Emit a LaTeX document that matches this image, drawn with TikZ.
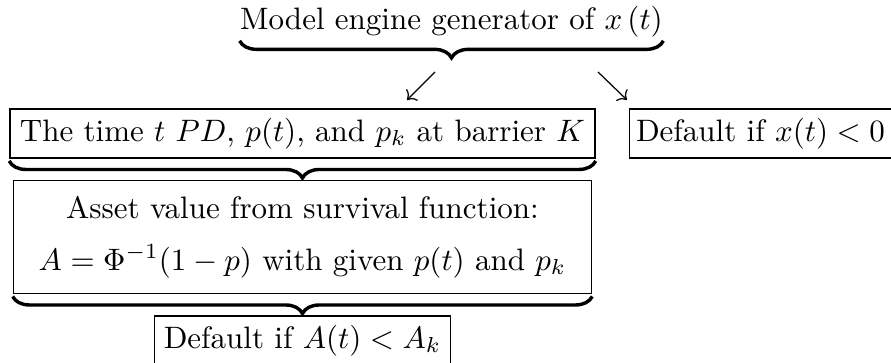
\documentclass[tikz,border=0pt]{standalone}
\usepackage{tikz}
\usetikzlibrary{arrows.meta, positioning, decorations.pathreplacing}
\tikzset{
    fbx/.style={
        draw, line width=0.5pt, inner sep=0pt,
        minimum height=0.556cm, align=center,
    },
    ubrace/.style={
        decorate, decoration={brace, mirror, amplitude=5.5pt},
        line width=1.1pt,
    },
    narr/.style={
        -{Computer Modern Rightarrow}, line width=0.4pt,
    },
}

\begin{document}
\begin{tikzpicture}

\useasboundingbox (0,0) rectangle (10.104,-4.116);

% ═══ GENERATOR (top) ═══
\node[inner sep=0pt, anchor=base] (title) at (5.12,-0.34)
    {Model engine generator of $x\left(t\right)$};
\draw[ubrace] ([yshift=-0.8pt]title.south west) -- ([yshift=-0.8pt]title.south east);

% Arrow ends
\coordinate (la1) at (4.933,-0.816);
\coordinate (la2) at (4.615,-1.134);
\coordinate (ra1) at (6.781,-0.816);
\coordinate (ra2) at (7.110,-1.134);

% ═══ FIRST ROW ═══
\node[fbx, minimum width=6.634cm] (pdbox) at (3.43,-1.514)
    {The time $t$ $PD$, $p(t)$, and $p_k$ at barrier $K$};
\node[fbx, minimum width=2.97cm, right=0.374cm of pdbox] (xdef)
    {Default if $x(t)<0$};

\draw[narr] (la1) -- (la2);
\draw[narr] (ra1) -- (ra2);

\draw[ubrace] ([yshift=-0.7pt]pdbox.south west) -- ([yshift=-0.7pt]pdbox.south east);

% ═══ ASSET VALUE ═══
\node[fbx, minimum width=6.555cm, minimum height=1.281cm, below=0.238cm of pdbox] (asset)
    {Asset value from survival function:\\[4.7pt]
     $A=\Phi^{-1}(1-p)$ with given $p(t)$ and $p_k$};

\draw[ubrace] ([yshift=-0.7pt]asset.south west) -- ([yshift=-0.7pt]asset.south east);

% ═══ DEFAULT ON A ═══
\node[fbx, minimum width=3.357cm, below=0.238cm of asset] (adef)
    {Default if $A(t)<A_k$};

\end{tikzpicture}
\end{document}
